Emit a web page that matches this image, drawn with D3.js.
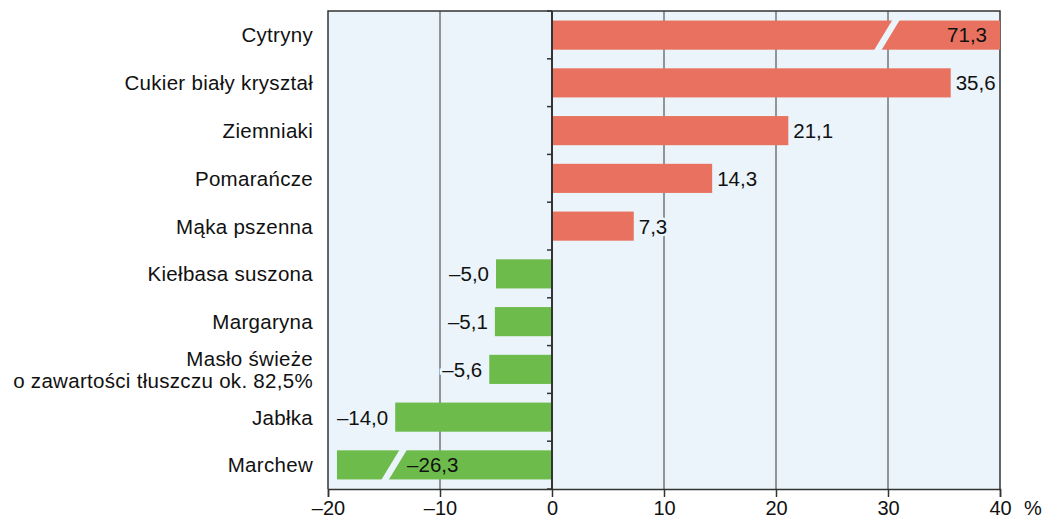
<!DOCTYPE html>
<html>
<head>
<meta charset="utf-8">
<script src="https://cdn.jsdelivr.net/npm/d3@7"></script>
<style>
  body { margin: 0; background: #fff; }
  svg { display: block; font-family: 'Liberation Sans', Arial, sans-serif; }
</style>
</head>
<body>
<div id="chart"></div>
<script>
const categories = [
  'Cytryny', 'Cukier biały kryształ', 'Ziemniaki', 'Pomarańcze', 'Mąka pszenna',
  'Kiełbasa suszona', 'Margaryna', 'Masło świeże\no zawartości tłuszczu ok. 82,5%',
  'Jabłka', 'Marchew'
];
const values = [71.3, 35.6, 21.1, 14.3, 7.3, -5.0, -5.1, -5.6, -14.0, -26.3];
const xTicks = [-20, -10, 0, 10, 20, 30, 40];

// bars too long for the axis: shown length and where the break sits
const brokenShown = { 'Cytryny': 40, 'Marchew': -19.2 };
const brokenAt = { 'Cytryny': 29.9, 'Marchew': -14.1 };

const data = categories.map((c, i) => ({ category: c, value: values[i] }));

const width = 1045;
const height = 521;
const plot = { left: 328, right: 1000, top: 11, bottom: 489 };
const bg = '#ebf4fa';
const red = '#e8725f';
const green = '#6dbb4b';
const fmt = v => (v < 0 ? '\u2013' : '') + Math.abs(v).toFixed(1).replace('.', ',');

const svg = d3.select('#chart')
  .append('svg')
  .attr('width', width)
  .attr('height', height);

const x = d3.scaleLinear()
  .domain([-20, 40])
  .range([plot.left, plot.right]);

const y = d3.scaleBand()
  .domain(categories)
  .range([plot.top, plot.bottom])
  .paddingInner(0.39)
  .paddingOuter(0.2);

// background
svg.append('rect')
  .attr('x', plot.left)
  .attr('y', plot.top)
  .attr('width', plot.right - plot.left)
  .attr('height', plot.bottom - plot.top)
  .attr('fill', bg);

// grid lines
svg.selectAll('.grid')
  .data(xTicks.filter(t => t !== 0 && t !== -20 && t !== 40))
  .enter()
  .append('line')
  .attr('x1', d => x(d))
  .attr('x2', d => x(d))
  .attr('y1', plot.top)
  .attr('y2', plot.bottom)
  .attr('stroke', '#555')
  .attr('stroke-width', 1.2);

// frame
svg.append('path')
  .attr('d', `M${plot.left},${plot.bottom}V${plot.top}H${plot.right}V${plot.bottom}`)
  .attr('fill', 'none')
  .attr('stroke', '#333')
  .attr('stroke-width', 1.5);

// bars
const shown = d => brokenShown[d.category] !== undefined ? brokenShown[d.category] : d.value;

svg.selectAll('.bar')
  .data(data)
  .enter()
  .append('rect')
  .attr('class', 'bar')
  .attr('x', d => x(Math.min(0, shown(d))))
  .attr('y', d => y(d.category))
  .attr('width', d => Math.abs(x(shown(d)) - x(0)))
  .attr('height', y.bandwidth())
  .attr('fill', d => d.value >= 0 ? red : green);

// break gaps
const broken = data.filter(d => brokenAt[d.category] !== undefined);
svg.selectAll('.gap')
  .data(broken)
  .enter()
  .append('path')
  .attr('d', d => {
    const cx = x(brokenAt[d.category]);
    const top = y(d.category) - 1;
    const bot = y(d.category) + y.bandwidth() + 1;
    const slant = 9.5, half = 3.7;
    return `M${cx + slant - half},${top}L${cx + slant + half},${top}` +
      `L${cx - slant + half},${bot}L${cx - slant - half},${bot}Z`;
  })
  .attr('fill', bg);

// zero line with small ticks at category boundaries
svg.append('line')
  .attr('x1', x(0))
  .attr('x2', x(0))
  .attr('y1', plot.top)
  .attr('y2', plot.bottom)
  .attr('stroke', '#333')
  .attr('stroke-width', 2);

svg.selectAll('.ztick')
  .data(d3.range(categories.length + 1))
  .enter()
  .append('line')
  .attr('x1', x(0) - 5)
  .attr('x2', x(0))
  .attr('y1', i => plot.top + i * (plot.bottom - plot.top) / categories.length)
  .attr('y2', i => plot.top + i * (plot.bottom - plot.top) / categories.length)
  .attr('stroke', '#333')
  .attr('stroke-width', 1.5);

// value labels
svg.selectAll('.bar-label')
  .data(data)
  .enter()
  .append('text')
  .attr('class', 'bar-label')
  .attr('x', d => {
    if (d.category === 'Cytryny') return x(shown(d)) - 13;
    if (d.category === 'Marchew') return x(brokenAt[d.category]) + 13;
    return d.value >= 0 ? x(d.value) + 5 : x(d.value) - 7;
  })
  .attr('y', d => y(d.category) + y.bandwidth() / 2)
  .attr('dy', '0.36em')
  .attr('text-anchor', d => {
    if (d.category === 'Cytryny') return 'end';
    if (d.category === 'Marchew') return 'start';
    return d.value >= 0 ? 'start' : 'end';
  })
  .attr('font-size', '20.5px')
  .attr('fill', '#111')
  .attr('stroke', d => brokenAt[d.category] !== undefined ? 'none' : bg)
  .attr('stroke-width', 5)
  .attr('paint-order', 'stroke')
  .text(d => fmt(d.value));

// category labels
const catLabels = svg.selectAll('.cat')
  .data(categories)
  .enter()
  .append('text')
  .attr('class', 'cat')
  .attr('x', 313)
  .attr('y', d => y(d) + y.bandwidth() / 2)
  .attr('text-anchor', 'end')
  .attr('font-size', '20.5px')
  .attr('letter-spacing', '0.3px')
  .attr('fill', '#111');

catLabels.each(function(d) {
  const lines = d.split('\n');
  const lh = 22.5;
  d3.select(this).selectAll('tspan')
    .data(lines)
    .enter()
    .append('tspan')
    .attr('x', 313)
    .attr('dy', (l, i) => i === 0 ? (0.36 * 20.5 - (lines.length - 1) * lh / 2) : lh)
    .text(l => l);
});

// x axis
const xAxis = svg.append('g')
  .attr('transform', `translate(0,${plot.bottom})`)
  .call(d3.axisBottom(x)
    .tickValues(xTicks)
    .tickSize(8)
    .tickFormat(d => d < 0 ? '\u2013' + Math.abs(d) : d));

xAxis.select('.domain')
  .attr('stroke', '#333')
  .attr('stroke-width', 1.5);
xAxis.selectAll('.tick line')
  .attr('stroke', '#333')
  .attr('stroke-width', 1.5);
xAxis.selectAll('.tick text')
  .attr('font-size', '20px')
  .attr('font-family', "'Liberation Sans', Arial, sans-serif")
  .attr('fill', '#111')
  .attr('y', 12);

svg.append('text')
  .attr('x', 1024)
  .attr('y', 515)
  .attr('font-size', '20px')
  .attr('fill', '#111')
  .text('%');
</script>
</body>
</html>
